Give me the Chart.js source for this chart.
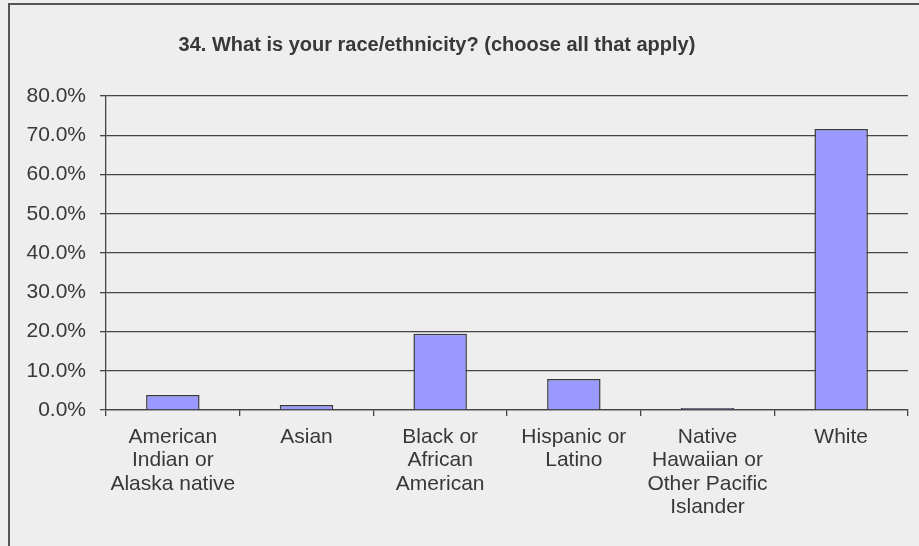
<!DOCTYPE html>
<html>
<head>
<meta charset="utf-8">
<script src="https://cdn.jsdelivr.net/npm/chart.js@4/dist/chart.umd.min.js"></script>
<style>
  html, body { margin: 0; padding: 0; background: #eeeeee; }
  #wrap { position: relative; width: 919px; height: 546px; }
  #frame { position: absolute; left: 8px; top: 3px; right: 0; bottom: 0;
           border-left: 2px solid #555; border-top: 2px solid #555; }
  canvas { position: absolute; left: 0; top: 0; }
</style>
</head>
<body>
<div id="wrap">
  <div id="frame"></div>
  <canvas id="chart-race" width="919" height="546"></canvas>
</div>
<script>
const titleText = '34. What is your race/ethnicity? (choose all that apply)';
const categories = [
    ['American', 'Indian or', 'Alaska native'],
    'Asian',
    ['Black or', 'African', 'American'],
    ['Hispanic or', 'Latino'],
    ['Native', 'Hawaiian or', 'Other Pacific', 'Islander'],
    'White'
];
const percents = [3.8, 1.3, 19.4, 7.9, 0.5, 71.6];
const yMax = 80;
const yStep = 10;

const fontFamily = '"Liberation Sans", Arial, sans-serif';
const ink = '#383838';
const lineGray = '#444';

// title sits left of the plot centre, so it is drawn by hand
const titlePlugin = {
    id: 'surveyTitle',
    afterDraw(chart) {
        const ctx = chart.ctx;
        ctx.save();
        ctx.font = 'bold 20px ' + fontFamily;
        ctx.fillStyle = ink;
        ctx.textAlign = 'center';
        ctx.textBaseline = 'middle';
        ctx.fillText(titleText, 437, 45);
        ctx.restore();
    }
};

new Chart(document.getElementById('chart-race'), {
    type: 'bar',
    data: {
        labels: categories,
        datasets: [{
            data: percents,
            backgroundColor: '#9999ff',
            borderColor: '#3a3a3a',
            borderWidth: 1.5,
            barPercentage: 0.4,
            categoryPercentage: 1
        }]
    },
    options: {
        responsive: false,
        animation: false,
        devicePixelRatio: 1,
        layout: { padding: { top: 96, right: 11, left: 0, bottom: 0 } },
        plugins: { legend: { display: false }, tooltip: { enabled: false } },
        scales: {
            x: {
                offset: true,
                grid: { display: true, drawOnChartArea: false, offset: true, color: lineGray, lineWidth: 1.3, tickLength: 6 },
                border: { color: lineGray, width: 1.3 },
                ticks: { color: ink, font: { family: fontFamily, size: 21, lineHeight: 1.1 }, padding: 10, maxRotation: 0, autoSkip: false },
                afterFit(scale) { scale.height = 136; }
            },
            y: {
                min: 0,
                max: yMax,
                grid: { color: lineGray, lineWidth: 1.3, tickLength: 6 },
                border: { color: lineGray, width: 1.3 },
                ticks: {
                    stepSize: yStep,
                    color: ink,
                    font: { family: fontFamily, size: 21 },
                    padding: 14,
                    callback: v => v.toFixed(1) + '%'
                },
                afterFit(scale) { scale.width = 106; }
            }
        }
    },
    plugins: [titlePlugin]
});
</script>
</body>
</html>
